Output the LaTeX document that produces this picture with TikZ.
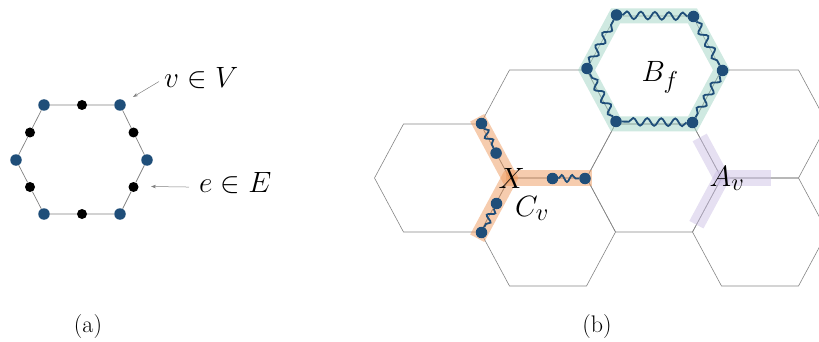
\documentclass[tikz,border=0pt]{standalone}
\usetikzlibrary{decorations.pathmorphing,arrows.meta}
\definecolor{dotblue}{HTML}{1F4E79}
\definecolor{latgray}{HTML}{858585}
\definecolor{orangeb}{HTML}{EE9A5E}
\definecolor{purpleb}{HTML}{CDC1E5}
\definecolor{tealb}{HTML}{9FD3C3}
\newcommand\hexcell[2]{\draw[lat,shift={(#1,#2)}] (-67.5,0) -- (-38.5,-54) -- (38.5,-54) -- (67.5,0) -- (38.5,54) -- (-38.5,54) -- cycle;}
\begin{document}
\begin{tikzpicture}[x=1pt,y=-1pt,
  lat/.style={draw=latgray, line width=0.6pt},
  aedge/.style={draw=gray, line width=0.7pt},
  bdot/.style={circle, fill=dotblue, inner sep=0pt, minimum size=11.5pt},
  kdot/.style={circle, fill=black, inner sep=0pt, minimum size=10pt},
  arr/.style={draw=gray, line width=0.5pt, -{Stealth[length=5pt,width=3.5pt]}},
  mathlab/.style={font=\Huge, scale=1.18, inner sep=0pt},
  panlab/.style={font=\fontsize{24}{28}\selectfont, inner sep=0pt},
  wave/.style={draw=dotblue, line width=1.8pt, decorate, decoration={snake, amplitude=3.8pt, segment length=14pt}},
  swave/.style={draw=dotblue, line width=1.8pt, decorate, decoration={snake, amplitude=3.5pt, segment length=10.5pt}},
  oband/.style={draw=orangeb, opacity=0.5, line width=16pt, line cap=butt},
  pband/.style={draw=purpleb, opacity=0.5, line width=16pt, line cap=butt},
  tband/.style={draw=tealb, opacity=0.5, line width=15pt}]
\useasboundingbox (0,0) rectangle (819,342);
\clip (0,0) rectangle (819,342);

% ---------- panel (a) ----------
\node[bdot] (v1) at (44,105) {};
\node[bdot] (v2) at (120,105) {};
\node[bdot] (v3) at (147,160) {};
\node[bdot] (v4) at (120,214) {};
\node[bdot] (v5) at (44,214) {};
\node[bdot] (v6) at (16,160) {};
\node[kdot] (e1) at (82,105) {};
\node[kdot] (e2) at (133.5,132.5) {};
\node[kdot] (e3) at (133.5,187) {};
\node[kdot] (e4) at (82,214) {};
\node[kdot] (e5) at (30,187) {};
\node[kdot] (e6) at (30,132.5) {};
\draw[aedge] (v1) -- (e1) -- (v2) -- (e2) -- (v3) -- (e3) -- (v4) -- (e4) -- (v5) -- (e5) -- (v6) -- (e6) -- (v1);

\node[mathlab, anchor=base west] (vlab) at (164,88) {$v\in V$};
\node[mathlab, anchor=base west] (elab) at (199,192) {$e\in E$};
\coordinate (vtip) at (133,97);
\coordinate (etip) at (151,186.5);
\draw[arr] ([shift={(-5,3)}]vlab.west) -- (vtip);
\draw[arr] ([shift={(-10,4.5)}]elab.west) -- (etip);

\node[panlab] (la) at (88,327) {(a)};
\node[panlab] (lb) at (597,327) {(b)};

% ---------- panel (b) lattice ----------
\hexcell{442}{178}
\hexcell{548}{124}
\hexcell{548}{232}
\hexcell{654}{70}
\hexcell{654}{178}
\hexcell{760}{124}
\hexcell{760}{232}

% bands
\draw[tband] (615.5,16) -- (692.5,16) -- (721.5,70) -- (692.5,124) -- (615.5,124) -- (586.5,70) -- cycle;

\coordinate (X) at (509.5,178);
\draw[oband] (511.4,181.5) -- (477.2,117.8);
\draw[oband] (505.5,178) -- (592,178);
\draw[oband] (511.4,174.5) -- (477.2,238.2);

\coordinate (A) at (721.5,178);
\draw[pband] (723.4,181.5) -- (699.7,137.5);
\draw[pband] (717.5,178) -- (771,178);
\draw[pband] (723.4,174.5) -- (696.4,224.7);

% B_f dots and waves
\node[bdot] (f1) at (616.5,15) {};
\node[bdot] (f2) at (693.5,16.5) {};
\node[bdot] (f3) at (722.5,70.5) {};
\node[bdot] (f4) at (692.5,122.5) {};
\node[bdot] (f5) at (616,121.5) {};
\node[bdot] (f6) at (587,68.5) {};
\draw[wave] (f1) -- (f2);
\draw[wave] (f2) -- (f3);
\draw[wave] (f3) -- (f4);
\draw[wave] (f4) -- (f5);
\draw[wave] (f5) -- (f6);
\draw[wave] (f6) -- (f1);

% C_v dots and waves
\node[bdot] (c1) at (481.5,123.5) {};
\node[bdot] (c2) at (496.1,153.1) {};
\node[bdot] (c3) at (585,178.5) {};
\node[bdot] (c4) at (552.5,178.5) {};
\node[bdot] (c5) at (481.5,232.5) {};
\node[bdot] (c6) at (496.5,203.5) {};
\draw[swave] (c1) -- (c2);
\draw[swave] (c4) -- (c3);
\draw[swave] (c6) -- (c5);

% labels
\node[mathlab, anchor=base west] (xl) at (498.5,188) {$X$};
\node[mathlab, anchor=base west] (cl) at (515,216) {$C_v$};
\node[mathlab, anchor=base west] (bl) at (641.5,81.5) {$B_f$};
\node[mathlab, anchor=base west] (al) at (709.5,186.5) {$A_v$};
\end{tikzpicture}
\end{document}
